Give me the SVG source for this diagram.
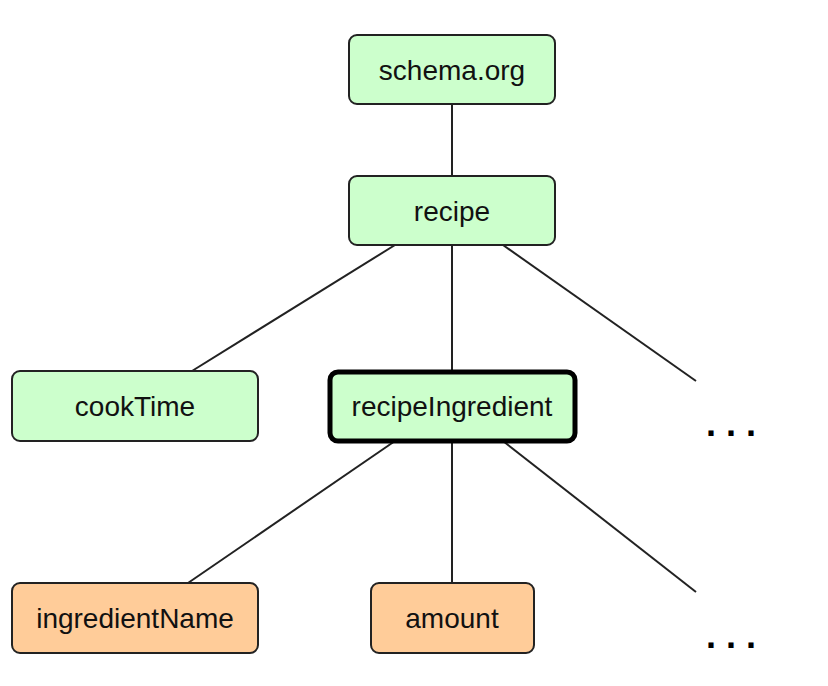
<svg xmlns="http://www.w3.org/2000/svg" width="828" height="686" viewBox="0 0 828 686">
<style>
.n rect{stroke:#222;stroke-width:2}
.g rect{fill:#ccffcc}
.o rect{fill:#ffcc99}
.n text{font-family:"Liberation Sans",Arial,sans-serif;font-size:28px;fill:#111;text-anchor:middle}
#conn line{stroke:#222;stroke-width:2}
.dots{font-family:"Liberation Sans",Arial,sans-serif;font-size:36px;font-weight:bold;fill:#000;letter-spacing:10px}
</style>
<rect width="828" height="686" fill="#fff"/>
<g id="conn">
<line x1="452" y1="104" x2="452" y2="176"/>
<line x1="395" y1="245" x2="192" y2="371"/>
<line x1="452" y1="245" x2="452" y2="371"/>
<line x1="503" y1="245" x2="696" y2="381"/>
<line x1="395" y1="441" x2="188" y2="583"/>
<line x1="452" y1="441" x2="452" y2="583"/>
<line x1="503" y1="441" x2="696" y2="592"/>
</g>
<g id="schema" class="n g"><rect x="349" y="35" width="206" height="69" rx="8"/><text x="452" y="80">schema.org</text></g>
<g id="recipe" class="n g"><rect x="349" y="176" width="206" height="69" rx="8"/><text x="452" y="221">recipe</text></g>
<g id="cookTime" class="n g"><rect x="12" y="371" width="246" height="70" rx="8"/><text x="135" y="416">cookTime</text></g>
<g id="recipeIngredient" class="n g"><rect x="330" y="372" width="245" height="69" rx="8" style="stroke:#000;stroke-width:5"/><text x="452" y="416">recipeIngredient</text></g>
<g id="ingredientName" class="n o"><rect x="12" y="583" width="246" height="70" rx="8"/><text x="135" y="628">ingredientName</text></g>
<g id="amount" class="n o"><rect x="371" y="583" width="163" height="70" rx="8"/><text x="452" y="628">amount</text></g>
<g id="more1"><text class="dots" x="706" y="436">...</text></g>
<g id="more2"><text class="dots" x="706" y="648">...</text></g>
</svg>
